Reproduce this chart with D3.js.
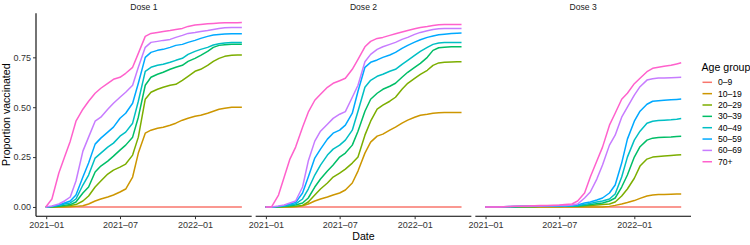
<!DOCTYPE html>
<html><head><meta charset="utf-8">
<script src="https://cdn.jsdelivr.net/npm/d3@7"></script>
<style>body{margin:0;background:#fff}svg{display:block}</style>
</head><body><svg id="c" width="750" height="245"></svg>
<script>
const dates = ["2020-12-31","2021-01-15","2021-02-01","2021-02-15","2021-03-01","2021-03-15","2021-04-01","2021-04-15","2021-05-01","2021-05-15","2021-06-01","2021-06-15","2021-07-01","2021-07-15","2021-08-01","2021-08-15","2021-09-01","2021-09-15","2021-10-01","2021-10-15","2021-11-01","2021-11-15","2021-12-01","2021-12-15","2022-01-01","2022-01-15","2022-02-01","2022-02-15","2022-03-01","2022-03-15","2022-04-01","2022-04-15","2022-04-26"];
const ageGroups = ["0–9","10–19","20–29","30–39","40–49","50–59","60–69","70+"];
const groupColors = ["#F8766D","#CD9600","#7CAE00","#00BE67","#00BFC4","#00A9FF","#C77CFF","#FF61CC"];
const doseLabels = ["Dose 1","Dose 2","Dose 3"];
const yTicks = [0, 0.25, 0.5, 0.75];
const xTickDates = ["2021-01-01","2021-07-01","2022-01-01"];
const zeros = [0,0,0,0,0,0,0,0,0,0,0,0,0,0,0,0,0,0,0,0,0,0,0,0,0,0,0,0,0,0,0,0,0];

const dose1 = [
  zeros,
  [0,0,0,0,0.001,0.003,0.006,0.015,0.03,0.04,0.05,0.06,0.075,0.09,0.15,0.27,0.37,0.385,0.395,0.40,0.41,0.42,0.435,0.445,0.455,0.46,0.47,0.48,0.49,0.495,0.5,0.5,0.5],
  [0,0,0.002,0.004,0.007,0.012,0.03,0.055,0.10,0.13,0.165,0.185,0.20,0.215,0.26,0.35,0.54,0.575,0.59,0.60,0.61,0.615,0.635,0.655,0.68,0.69,0.71,0.73,0.745,0.755,0.76,0.762,0.762],
  [0,0.001,0.004,0.008,0.012,0.025,0.07,0.10,0.175,0.205,0.23,0.255,0.285,0.31,0.35,0.45,0.61,0.65,0.665,0.675,0.69,0.70,0.71,0.73,0.745,0.76,0.78,0.80,0.81,0.813,0.815,0.815,0.815],
  [0,0.002,0.008,0.015,0.02,0.04,0.11,0.16,0.245,0.27,0.30,0.32,0.355,0.375,0.42,0.53,0.68,0.70,0.71,0.715,0.725,0.735,0.745,0.765,0.78,0.79,0.80,0.812,0.818,0.822,0.824,0.825,0.825],
  [0,0.003,0.01,0.02,0.03,0.06,0.15,0.22,0.315,0.345,0.375,0.40,0.445,0.47,0.52,0.62,0.75,0.775,0.785,0.79,0.80,0.81,0.815,0.825,0.835,0.845,0.855,0.862,0.865,0.867,0.868,0.868,0.868],
  [0,0.005,0.015,0.03,0.05,0.13,0.28,0.35,0.43,0.45,0.49,0.52,0.55,0.575,0.61,0.70,0.80,0.825,0.83,0.835,0.84,0.85,0.86,0.87,0.875,0.88,0.885,0.89,0.895,0.898,0.9,0.9,0.9],
  [0,0.04,0.17,0.25,0.33,0.43,0.49,0.53,0.57,0.595,0.62,0.64,0.65,0.67,0.70,0.77,0.855,0.87,0.875,0.88,0.885,0.89,0.895,0.905,0.912,0.915,0.918,0.92,0.922,0.923,0.924,0.924,0.925]
];
const dose2 = [
  zeros,
  [0,0,0,0,0,0.001,0.006,0.015,0.03,0.04,0.05,0.06,0.07,0.085,0.12,0.18,0.27,0.325,0.355,0.365,0.385,0.40,0.42,0.435,0.45,0.46,0.465,0.47,0.472,0.473,0.474,0.474,0.474],
  [0,0,0,0.001,0.002,0.004,0.008,0.025,0.06,0.09,0.12,0.15,0.17,0.19,0.22,0.25,0.36,0.43,0.49,0.51,0.53,0.55,0.59,0.62,0.645,0.665,0.685,0.71,0.722,0.725,0.727,0.728,0.728],
  [0,0,0.001,0.003,0.006,0.01,0.02,0.045,0.10,0.14,0.18,0.21,0.25,0.27,0.31,0.38,0.48,0.54,0.57,0.59,0.605,0.62,0.65,0.675,0.70,0.72,0.75,0.785,0.798,0.801,0.803,0.803,0.803],
  [0,0,0.002,0.005,0.01,0.015,0.04,0.09,0.16,0.21,0.26,0.29,0.31,0.335,0.385,0.48,0.60,0.635,0.655,0.665,0.68,0.69,0.715,0.735,0.76,0.78,0.80,0.815,0.822,0.824,0.825,0.825,0.825],
  [0,0,0.003,0.008,0.015,0.022,0.07,0.15,0.245,0.29,0.34,0.37,0.385,0.41,0.47,0.58,0.70,0.725,0.737,0.75,0.762,0.775,0.795,0.81,0.826,0.838,0.85,0.857,0.863,0.866,0.869,0.871,0.872],
  [0,0,0.005,0.01,0.02,0.03,0.10,0.23,0.33,0.38,0.415,0.444,0.465,0.478,0.55,0.61,0.728,0.765,0.79,0.803,0.815,0.825,0.84,0.85,0.865,0.875,0.883,0.89,0.893,0.894,0.895,0.895,0.895],
  [0,0,0.06,0.15,0.24,0.30,0.40,0.475,0.535,0.565,0.60,0.62,0.633,0.645,0.69,0.74,0.803,0.83,0.845,0.85,0.86,0.868,0.877,0.885,0.893,0.90,0.905,0.91,0.913,0.914,0.915,0.915,0.915]
];
const dose3 = [
  zeros,
  [0,0,0,0,0,0,0,0,0,0,0,0,0,0,0,0,0,0,0,0,0.003,0.008,0.015,0.022,0.032,0.043,0.055,0.06,0.062,0.063,0.064,0.065,0.065],
  [0,0,0,0,0,0.001,0.001,0.001,0.001,0.002,0.002,0.002,0.002,0.003,0.003,0.003,0.005,0.007,0.01,0.012,0.015,0.025,0.055,0.09,0.144,0.205,0.24,0.25,0.253,0.256,0.258,0.26,0.262],
  [0,0,0,0,0.001,0.001,0.002,0.002,0.002,0.003,0.003,0.003,0.004,0.004,0.004,0.005,0.008,0.012,0.016,0.02,0.03,0.045,0.10,0.16,0.25,0.302,0.335,0.345,0.348,0.35,0.351,0.353,0.354],
  [0,0,0,0.001,0.001,0.002,0.002,0.002,0.003,0.003,0.003,0.004,0.004,0.004,0.005,0.007,0.012,0.018,0.025,0.03,0.04,0.065,0.15,0.25,0.335,0.38,0.42,0.43,0.433,0.435,0.437,0.44,0.443],
  [0,0,0,0.001,0.002,0.002,0.003,0.003,0.004,0.004,0.005,0.005,0.005,0.006,0.007,0.01,0.02,0.025,0.035,0.045,0.07,0.11,0.22,0.34,0.43,0.48,0.515,0.53,0.533,0.535,0.537,0.539,0.541],
  [0,0,0,0.001,0.002,0.003,0.004,0.004,0.005,0.005,0.006,0.006,0.007,0.008,0.01,0.015,0.045,0.075,0.14,0.21,0.31,0.36,0.45,0.50,0.561,0.603,0.636,0.643,0.646,0.647,0.648,0.649,0.65],
  [0,0,0,0.001,0.002,0.003,0.004,0.005,0.006,0.007,0.008,0.009,0.01,0.012,0.015,0.03,0.07,0.15,0.23,0.30,0.41,0.47,0.54,0.57,0.618,0.645,0.678,0.695,0.70,0.705,0.71,0.717,0.723]
];
const doses = [dose1, dose2, dose3];

const parse = d3.utcParse("%Y-%m-%d");
const parsedDates = dates.map(parse);
const svg = d3.select("#c");
const font = "'Liberation Sans', Arial, Helvetica, sans-serif";

const panelLeft = 36, panelRight = 691, gap = 4;
const pw = (panelRight - panelLeft - gap * 2) / 3;
const panelTop = 13.2, panelBottom = 216.2;

const ext = d3.extent(parsedDates);
const span = ext[1] - ext[0];
const xDomain = [new Date(+ext[0] - 0.05 * span), new Date(+ext[1] + 0.05 * span)];
const ymax = d3.max(doses.flat(2));
const y = d3.scaleLinear().domain([-0.05 * ymax, ymax * 1.05]).range([panelBottom, panelTop]);
const fmt = d3.utcFormat("%Y–%m");

doses.forEach((dose, p) => {
  const x0 = panelLeft + p * (pw + gap);
  const x = d3.scaleUtc().domain(xDomain).range([x0, x0 + pw]);
  const g = svg.append("g");
  const line = d3.line().x((d, i) => x(parsedDates[i])).y(d => y(d));
  dose.forEach((vals, k) => {
    g.append("path").attr("d", line(vals)).attr("fill", "none")
      .attr("stroke", groupColors[k]).attr("stroke-width", 1.5)
      .attr("stroke-linejoin", "round");
  });
  const ax = svg.append("g").attr("transform", `translate(0,${panelBottom})`)
    .call(d3.axisBottom(x).tickValues(xTickDates.map(parse)).tickFormat(fmt).tickSize(3).tickPadding(2));
  ax.select(".domain").attr("stroke", "#000").attr("stroke-width", 1.1).attr("d", `M${x0},0H${x0 + pw}`);
  ax.selectAll(".tick line").attr("stroke", "#333").attr("stroke-width", 1);
  ax.selectAll("text").attr("font-family", font).attr("font-size", 9).attr("fill", "#333");
  svg.append("text").attr("x", x0 + pw / 2).attr("y", 10).attr("text-anchor", "middle")
    .attr("font-family", font).attr("font-size", 8.6).attr("fill", "#1a1a1a").text(doseLabels[p]);
});

const ay = svg.append("g").attr("transform", `translate(${panelLeft},0)`)
  .call(d3.axisLeft(y).tickValues(yTicks).tickFormat(d3.format(".2f")).tickSize(3).tickPadding(2));
ay.select(".domain").attr("stroke", "#000").attr("stroke-width", 1.1).attr("d", `M0,${panelTop}V${panelBottom}`);
ay.selectAll(".tick line").attr("stroke", "#333");
ay.selectAll("text").attr("font-family", font).attr("font-size", 9).attr("fill", "#333");

svg.append("text").attr("x", (panelLeft + panelRight) / 2).attr("y", 240).attr("text-anchor", "middle")
  .attr("font-family", font).attr("font-size", 10.6).attr("fill", "#000").text("Date");
svg.append("text").attr("transform", `translate(10,${(panelTop + panelBottom) / 2}) rotate(-90)`).attr("text-anchor", "middle")
  .attr("font-family", font).attr("font-size", 10.6).attr("fill", "#000").text("Proportion vaccinated");

const lg = svg.append("g");
lg.append("text").attr("x", 701.5).attr("y", 70.5).attr("font-family", font).attr("font-size", 10.6).attr("fill", "#000").text("Age group");
ageGroups.forEach((a, i) => {
  const cy = 82.3 + i * 11.35;
  lg.append("line").attr("x1", 702.5).attr("x2", 712).attr("y1", cy).attr("y2", cy)
    .attr("stroke", groupColors[i]).attr("stroke-width", 1.5);
  lg.append("text").attr("x", 718).attr("y", cy).attr("dy", "0.35em").attr("font-family", font)
    .attr("font-size", 8.6).attr("fill", "#000").text(a);
});
</script></body></html>
